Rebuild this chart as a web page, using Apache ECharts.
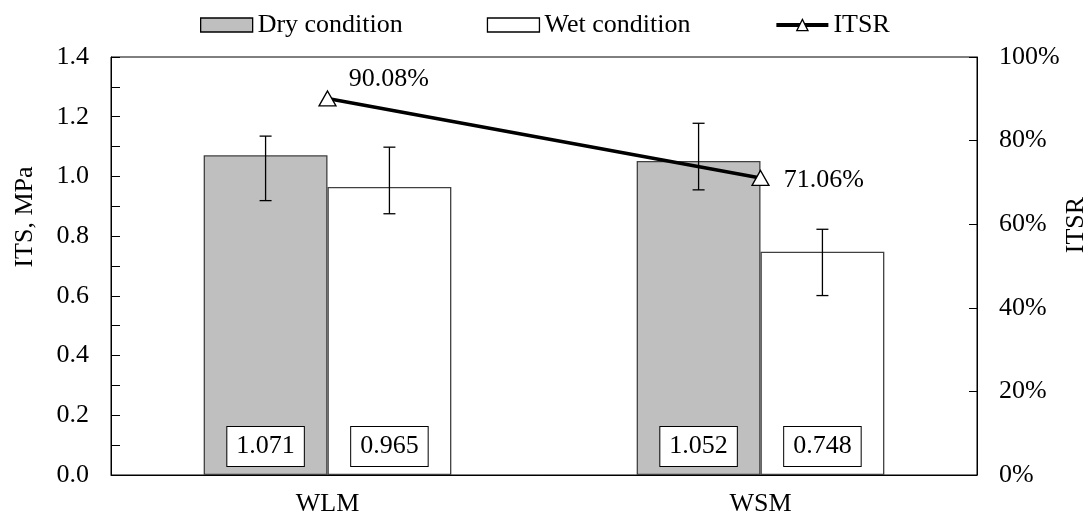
<!DOCTYPE html>
<html>
<head>
<meta charset="utf-8">
<script src="https://cdn.jsdelivr.net/npm/echarts@6/dist/echarts.min.js"></script>
<style>
html,body{margin:0;padding:0;background:#fff;}
#chart{width:1091px;height:518px;}
</style>
</head>
<body>
<div id="chart"></div>
<script>
const categories = ['WLM', 'WSM'];
const dryValues = [1.071, 1.052];
const wetValues = [0.965, 0.748];
const dryErrHigh = [1.135, 1.178];
const dryErrLow = [0.919, 0.955];
const wetErrHigh = [1.098, 0.823];
const wetErrLow = [0.875, 0.601];
const itsrValues = [90.08, 71.06];

const FONT = "'Liberation Serif', 'Times New Roman', serif";
const FS = 26;
const BAR_W = 0.286;

function errSeries(name, hi, lo, side) {
  return {
    type: 'custom',
    name: name,
    xAxisIndex: 0, yAxisIndex: 0,
    z: 5,
    silent: true,
    data: categories.map((c, i) => [i, hi[i], lo[i]]),
    renderItem: function (params, api) {
      const ci = api.value(0);
      const top = api.coord([ci, api.value(1)]);
      const bot = api.coord([ci, api.value(2)]);
      const band = api.size([1, 0])[0];
      const x = top[0] + side * band * BAR_W / 2;
      const cap = 6;
      const st = { stroke: '#000', lineWidth: 1.3 };
      return {
        type: 'group',
        children: [
          { type: 'line', shape: { x1: x, y1: top[1], x2: x, y2: bot[1] }, style: st },
          { type: 'line', shape: { x1: x - cap, y1: top[1], x2: x + cap, y2: top[1] }, style: st },
          { type: 'line', shape: { x1: x - cap, y1: bot[1], x2: x + cap, y2: bot[1] }, style: st }
        ]
      };
    }
  };
}

const boxLabel = {
  show: true,
  position: 'insideBottom',
  distance: 9,
  color: '#000',
  fontFamily: FONT,
  fontSize: FS,
  backgroundColor: '#fff',
  borderColor: '#000',
  borderWidth: 1,
  padding: [5, 9, 5, 9],
  lineHeight: 29,
  formatter: p => p.value.toFixed(3)
};

const chart = echarts.init(document.getElementById('chart'), null, { renderer: 'canvas' });
chart.setOption({
  animation: false,
  backgroundColor: '#fff',
  textStyle: { fontFamily: FONT, color: '#000' },
  grid: { left: 111, right: 114, top: 57, bottom: 43, show: true, borderColor: '#000', borderWidth: 1, backgroundColor: 'transparent' },
  legend: {
    data: [
      { name: 'Dry condition', icon: 'rect' },
      { name: 'Wet condition', icon: 'rect' },
      { name: 'ITSR' }
    ],
    left: 200, top: 12, padding: 0,
    itemWidth: 52, itemHeight: 14, itemGap: 84,
    textStyle: { fontFamily: FONT, fontSize: FS, color: '#000' },
    itemStyle: { borderColor: '#000', borderWidth: 1.3 },
    lineStyle: { width: 4 }
  },
  graphic: [
    { type: 'text', x: 25, y: 217, rotation: Math.PI / 2,
      style: { text: 'ITS, MPa', font: FS + 'px ' + FONT, fill: '#000', textAlign: 'center', textVerticalAlign: 'middle' } },
    { type: 'text', x: 1076, y: 225, rotation: Math.PI / 2,
      style: { text: 'ITSR', font: FS + 'px ' + FONT, fill: '#000', textAlign: 'center', textVerticalAlign: 'middle' } }
  ],
  xAxis: {
    type: 'category',
    data: categories,
    axisLine: { lineStyle: { color: '#000', width: 1 } },
    axisTick: { inside: true, length: 8, lineStyle: { color: '#000' } },
    axisLabel: { margin: 16, color: '#000', fontFamily: FONT, fontSize: FS },
    splitLine: { show: false }
  },
  yAxis: [
    {
      type: 'value', min: 0, max: 1.4, interval: 0.2,
      axisLine: { show: true, lineStyle: { color: '#000', width: 1 } },
      axisTick: { show: true, inside: true, length: 9, lineStyle: { color: '#000' } },
      minorTick: { show: true, splitNumber: 2, length: 9, lineStyle: { color: '#000' } },
      axisLabel: { margin: 22, color: '#000', fontFamily: FONT, fontSize: FS, formatter: v => v.toFixed(1) },
      splitLine: { show: false }
    },
    {
      type: 'value', min: 0, max: 100, interval: 20, position: 'right',
      axisLine: { show: true, lineStyle: { color: '#000', width: 1 } },
      axisTick: { show: true, inside: true, length: 8, lineStyle: { color: '#000' } },
      axisLabel: { margin: 22, color: '#000', fontFamily: FONT, fontSize: FS, formatter: '{value}%' },
      splitLine: { show: false }
    }
  ],
  series: [
    {
      name: 'Dry condition', type: 'bar', data: dryValues,
      barWidth: (BAR_W * 100) + '%', barGap: '0%',
      itemStyle: { color: '#bfbfbf', borderColor: '#404040', borderWidth: 1.3 },
      label: boxLabel, z: 2
    },
    {
      name: 'Wet condition', type: 'bar', data: wetValues,
      barWidth: (BAR_W * 100) + '%', barGap: '0%',
      itemStyle: { color: '#ffffff', borderColor: '#404040', borderWidth: 1.3 },
      label: boxLabel, z: 2
    },
    errSeries('dryErr', dryErrHigh, dryErrLow, -1),
    errSeries('wetErr', wetErrHigh, wetErrLow, 1),
    {
      name: 'ITSR', type: 'line', yAxisIndex: 1, data: itsrValues.map((v, i) => ({
        value: v,
        label: i === 0 ? { offset: [0, -19] } : { offset: [2, 2] }
      })),
      z: 10,
      symbol: 'triangle', symbolSize: [17, 15],
      lineStyle: { color: '#000', width: 3.5 },
      itemStyle: { color: '#fff', borderColor: '#000', borderWidth: 1.3 },
      label: { show: true, position: 'right', distance: 12, color: '#000', fontFamily: FONT, fontSize: FS, formatter: p => p.value.toFixed(2) + '%' }
    }
  ]
});
</script>
</body>
</html>
